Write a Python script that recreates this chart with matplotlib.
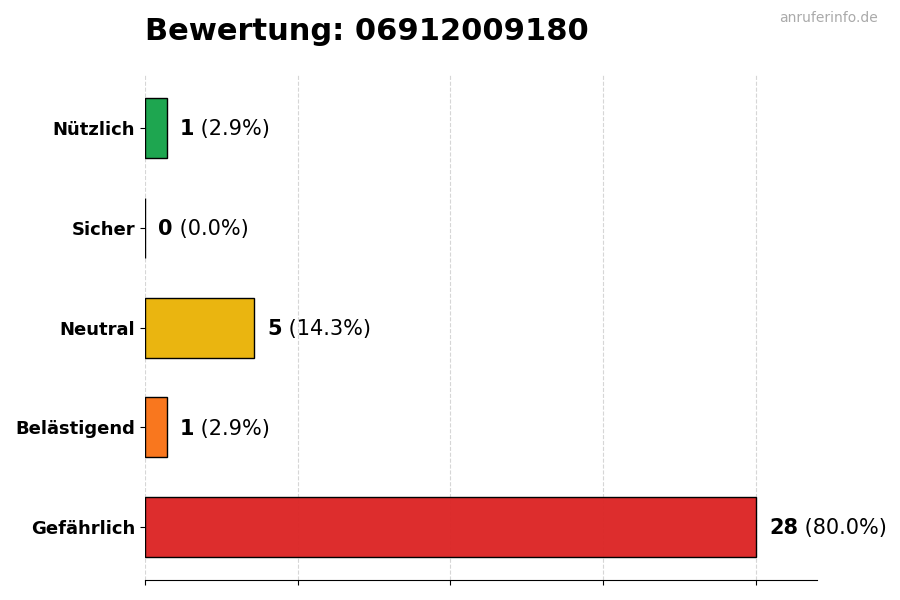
import matplotlib
matplotlib.use('Agg')
import matplotlib.pyplot as plt
from matplotlib.colors import to_rgba

# data (bottom to top)
categories = ['Gefährlich', 'Belästigend', 'Neutral', 'Sicher', 'Nützlich']
counts = [28, 1, 5, 0, 1]
colors = ['#dc2626', '#f97316', '#eab308', '#9ca3af', '#16a34a']
total = sum(counts)

fig = plt.figure(figsize=(9, 6), dpi=100)
ax = fig.add_axes([0.161, 0.033, 0.747, 0.842])

faces = [to_rgba(c, 0.97) for c in colors]
ax.barh(categories, counts, height=0.6, color=faces, edgecolor='black', linewidth=1, zorder=2)

xmax = max(counts)
ax.set_xlim(0, xmax * 1.1)
ax.set_xticks([0, xmax * 0.25, xmax * 0.5, xmax * 0.75, xmax])
ax.set_xticklabels([])
ax.grid(axis='x', linestyle='--', color='#cccccc', alpha=0.8, zorder=0)
ax.set_axisbelow(True)

for s in ['top', 'right', 'left']:
    ax.spines[s].set_visible(False)
ax.tick_params(axis='y', labelsize=13)
for lbl in ax.get_yticklabels():
    lbl.set_fontweight('bold')

fig.canvas.draw()
renderer = fig.canvas.get_renderer()
for i, c in enumerate(counts):
    pct = c / total * 100
    t = ax.annotate(str(c), xy=(c, i), xytext=(9.5, -0.8), textcoords='offset points',
                    va='center', ha='left', fontsize=15, fontweight='bold')
    bb = t.get_window_extent(renderer)
    ax.annotate(' (%.1f%%)' % pct, xy=(c, i), xytext=(9.5 + bb.width * 72 / fig.dpi, -0.8),
                textcoords='offset points', va='center', ha='left', fontsize=15)

fig.text(0.161, 0.947, 'Bewertung: 06912009180', fontsize=22, fontweight='bold', va='center', ha='left')
fig.text(0.975, 0.97, 'anruferinfo.de', fontsize=10, color='#aaaaaa', va='center', ha='right')

fig.savefig('out.png', dpi=100)
